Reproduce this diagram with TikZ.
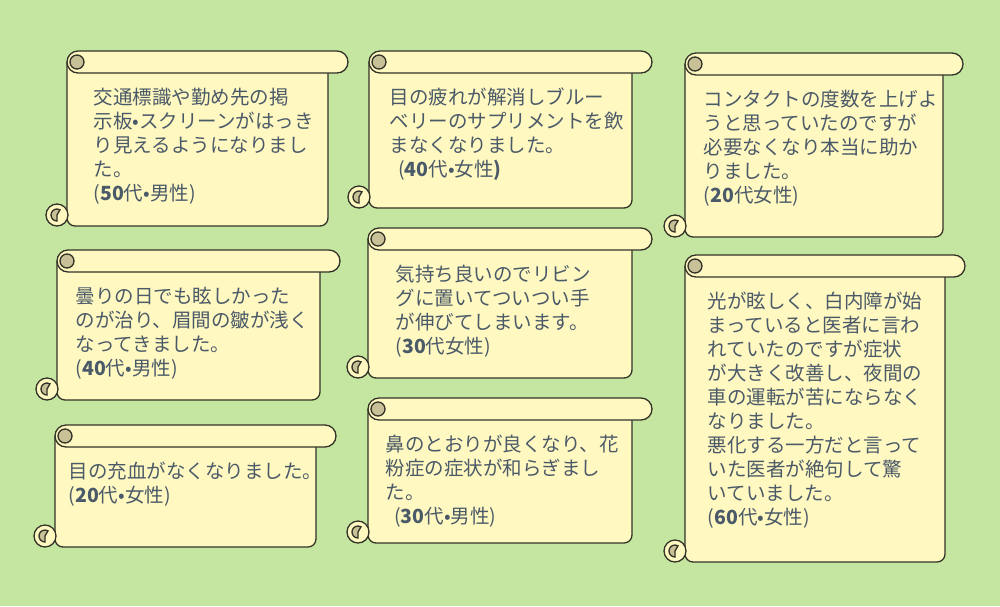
\documentclass[tikz,border=0pt]{standalone}
\usepackage{fontspec}
\setmainfont{Noto Sans CJK JP}
\usepackage{tikz}
\usetikzlibrary{positioning, calc}
\definecolor{colBg}{RGB}{197, 230, 160}
\definecolor{colPaper}{RGB}{255, 248, 192}
\definecolor{colCurl}{RGB}{200, 192, 150}
\definecolor{colLine}{RGB}{50, 50, 40}
\definecolor{colText}{RGB}{75, 90, 105}
\tikzset{
    text block/.style={align=left, text=colText, font=\fontsize{19.5}{24}\selectfont, inner sep=0pt}
}
% scroll: name, left, top, right, bottom, text, text indent
\newcommand{\scrollpaper}[7]{
    \draw[colLine, fill=colPaper, rounded corners=8pt] (#2, #3+11) -- (#2, #5) -- (#4, #5) -- (#4, #3+11); % Body
    \draw[colLine, fill=colPaper, rounded corners=11pt] (#2, #3) rectangle (#4+20, #3+22); % Top roll
    \draw[colLine, fill=colCurl] (#2+10, #3+11) circle (7); % Top curl
    \draw[colLine, fill=colPaper] (#2-10, #5-11) circle (11); % Bottom curl
    \draw[colLine, fill=colCurl] (#2-10, #5-11) -- ++(0, 6) arc (90:300:6) -- cycle;
    \node[text block, anchor=north west] (#1) at (#2+#7, #3+36) {#6};
}
\begin{document}
\begin{tikzpicture}[x=1pt, y=-1pt, line width=1.3pt]
    \fill[colBg] (0, 0) rectangle (1000, 606);
    \useasboundingbox (0, 0) rectangle (1000, 606);

    % Left column
    \scrollpaper{signs}{67}{51}{328}{226}{交通標識や勤め先の掲\\示板•スクリーンがはっき\\り見えるようになりまし\\た。\\(\textbf{50}代•男性)}{26}
    \scrollpaper{glare}{57}{250}{320}{400}{曇りの日でも眩しかった\\のが治り、眉間の皺が浅く\\なってきました。\\(\textbf{40}代•男性)}{18}
    \scrollpaper{redeye}{55}{425}{316}{547}{目の充血がなくなりました。\\(\textbf{20}代•女性)}{13}

    % Middle column
    \scrollpaper{fatigue}{369}{51}{632}{208}{目の疲れが解消しブルー\\ベリーのサプリメントを飲\\まなくなりました。\\\ \ (\textbf{40}代•女性\textbf{)}}{20}
    \scrollpaper{living}{368}{228}{632}{378}{気持ち良いのでリビン\\グに置いてついつい手\\が伸びてしまいます。\\(\textbf{30}代女性)}{27}
    \scrollpaper{nose}{368}{398}{632}{543}{鼻のとおりが良くなり、花\\粉症の症状が和らぎまし\\た。\\\ \ (\textbf{30}代•男性)}{17}

    % Right column
    \scrollpaper{contact}{685}{53}{943}{237}{コンタクトの度数を上げよ\\うと思っていたのですが\\必要なくなり本当に助か\\りました。\\(\textbf{20}代女性)}{18}
    \scrollpaper{cataract}{685}{255}{945}{562}{光が眩しく、白内障が始\\まっていると医者に言わ\\れていたのですが症状\\が大きく改善し、夜間の\\車の運転が苦にならなく\\なりました。\\悪化する一方だと言って\\いた医者が絶句して驚\\いていました。\\(\textbf{60}代•女性)}{22}
\end{tikzpicture}
\end{document}
